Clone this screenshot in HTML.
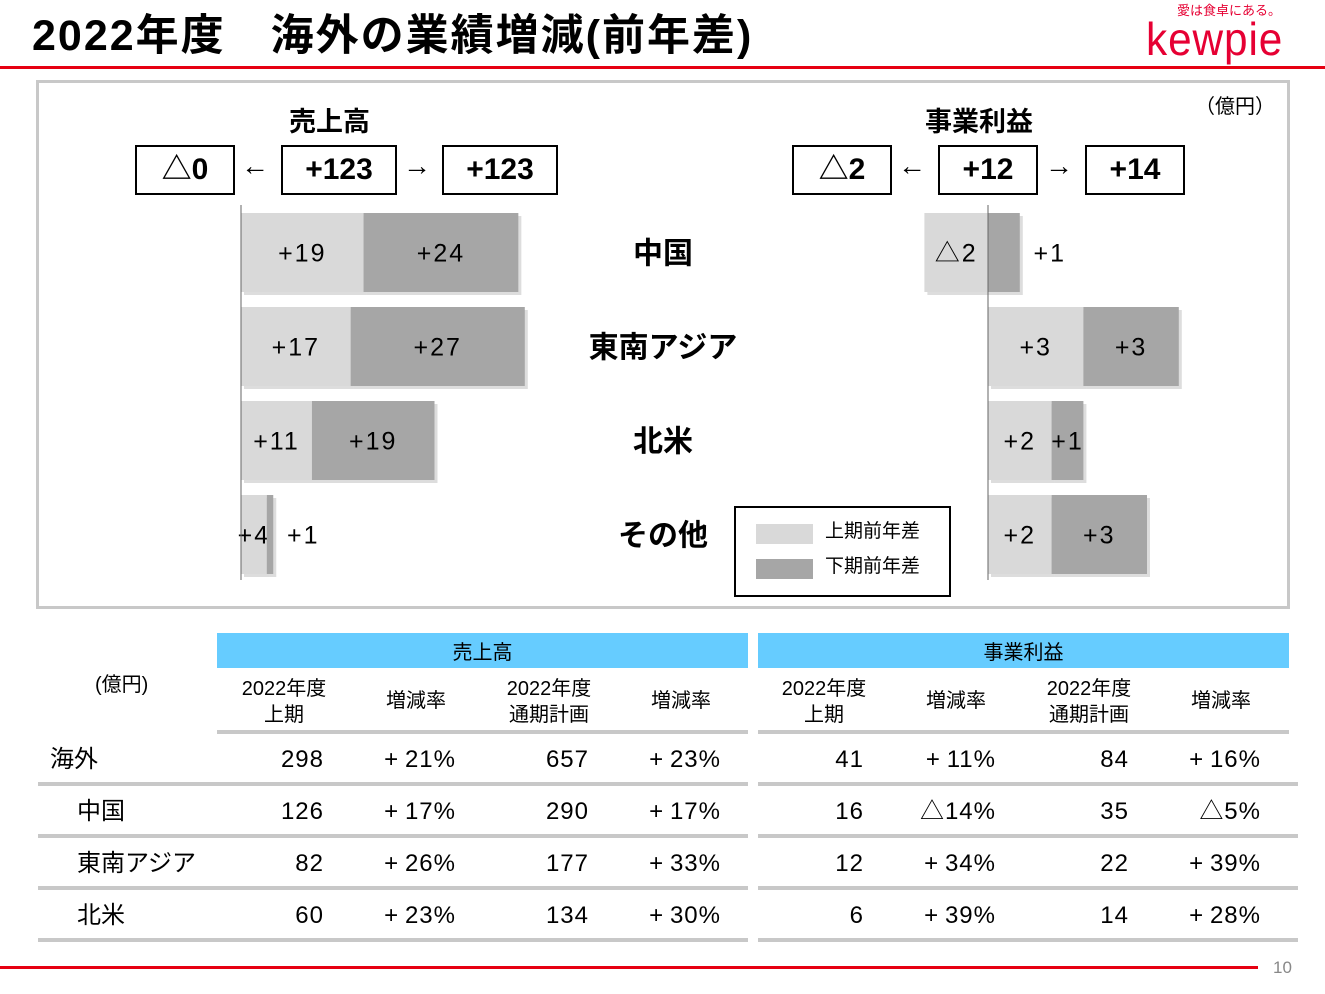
<!DOCTYPE html>
<html><head><meta charset="utf-8"><style>
body{margin:0;width:1325px;height:994px;background:#fff;font-family:"Liberation Sans","Noto Sans CJK JP",sans-serif;position:relative;overflow:hidden;color:#000}
.a{position:absolute}
.box{position:absolute;border:2px solid #000;box-sizing:border-box;display:flex;align-items:center;justify-content:center;font-weight:bold;font-size:30px;height:50px;top:145px;line-height:30px}
.arr{position:absolute;top:150px;font-size:28px}
.hd{position:absolute;top:633px;height:35px;background:#66ccff;display:flex;align-items:center;justify-content:center;font-size:20px}
.ch{position:absolute;font-size:20px;text-align:center;line-height:26px}
.cell{position:absolute;font-size:24px;text-align:right;line-height:30px;height:30px}
.sep{position:absolute;height:4px;background:#c8c8c8}
</style></head><body>
<div class="a" style="left:32px;top:10px;font-size:43px;font-weight:bold;letter-spacing:2px;line-height:52px">2022年度　海外の業績増減(前年差)</div>
<div class="a" style="left:1177px;top:0px;font-size:13px;color:#e60033">愛は食卓にある。</div>
<div class="a" style="left:1146px;top:12px;font-size:46px;color:#e60033;letter-spacing:1px;transform:scaleX(0.92);transform-origin:left">kewpie</div>
<div class="a" style="left:0;top:66px;width:1325px;height:3px;background:#e60012"></div>
<div class="a" style="left:36px;top:80px;width:1254px;height:529px;border:3px solid #c8c8c8;box-sizing:border-box"></div>
<div class="a" style="left:1195px;top:90px;font-size:20px">（億円）</div>
<div class="a" style="left:289px;top:100px;font-size:27px;font-weight:bold">売上高</div>
<div class="a" style="left:925px;top:100px;font-size:27px;font-weight:bold">事業利益</div>
<div class="box" style="left:135px;width:100px">△0</div>
<div class="arr" style="left:241px">←</div>
<div class="box" style="left:281px;width:116px">+123</div>
<div class="arr" style="left:403px">→</div>
<div class="box" style="left:442px;width:116px">+123</div>
<div class="box" style="left:792px;width:100px">△2</div>
<div class="arr" style="left:898px">←</div>
<div class="box" style="left:938px;width:100px">+12</div>
<div class="arr" style="left:1045px">→</div>
<div class="box" style="left:1085px;width:100px">+14</div>
<svg class="a" style="left:0;top:0" width="1325" height="994" id="chart"></svg>
<div class="a" style="left:734px;top:506px;width:217px;height:91px;border:2px solid #000;box-sizing:border-box;background:#fff">
<div class="a" style="left:20px;top:16px;width:57px;height:20px;background:#d9d9d9"></div>
<div class="a" style="left:89px;top:12px;font-size:19px;line-height:24px">上期前年差</div>
<div class="a" style="left:20px;top:51px;width:57px;height:20px;background:#a6a6a6"></div>
<div class="a" style="left:89px;top:47px;font-size:19px;line-height:24px">下期前年差</div>
</div>
<div class="hd" style="left:217px;width:531px">売上高</div>
<div class="hd" style="left:758px;width:531px">事業利益</div>
<div class="ch" style="left:95px;top:672px">(億円)</div>
<div id="tbl"></div>
<div class="a" style="left:0;top:966px;width:1258px;height:3px;background:#e60012"></div>
<div class="a" style="left:1273px;top:958px;font-size:17px;color:#888">10</div>
<script>
const cats=["中国","東南アジア","北米","その他"];
const salesH1=[19,17,11,4];
const salesH2=[24,27,19,1];
const profitH1=[-2,3,2,2];
const profitH2=[1,3,1,3];
const NS="http://www.w3.org/2000/svg";
const svg=document.getElementById('chart');
const rowY=i=>213+i*94, barH=79;
const sx=v=>241+v*6.45, px=v=>988+v*31.8;
function fmt(v){return v<0?"△"+(-v):"+"+v;}
function el(t,a){const e=document.createElementNS(NS,t);for(const k in a)e.setAttribute(k,a[k]);svg.appendChild(e);return e;}
function seg(x0,x1,y,fill,v,name,outside){
  const l=Math.min(x0,x1),w=Math.abs(x1-x0);
  el('rect',{x:l+3,y:y+3,width:w,height:barH,fill:'#bbb',opacity:0.5});
  const r=el('rect',{x:l,y:y,width:w,height:barH,fill:fill});
  
  
  const cx=(outside||w<15)?Math.max(x0,x1)+30:l+w/2;
  const t=el('text',{x:cx,y:y+barH/2+9,'font-size':25,'text-anchor':'middle','letter-spacing':2});
  t.textContent=fmt(v);
  
  
}
function chart(h1,h2,sc,pre){
  cats.forEach((c,i)=>{const y=rowY(i);
    seg(sc(0),sc(h1[i]),y,'#d9d9d9',h1[i],pre+'-h1-bar',false);
    const b=h1[i]>0?h1[i]:0;
    seg(sc(b),sc(b+h2[i]),y,'#a6a6a6',h2[i],pre+'-h2-bar',h1[i]<0);});
  const ax=el('line',{x1:sc(0),x2:sc(0),y1:205,y2:580,stroke:'#666','stroke-width':1});
  
  
}
chart(salesH1,salesH2,sx,'sales');
chart(profitH1,profitH2,px,'profit');
cats.forEach((c,i)=>{const t=el('text',{x:663,y:rowY(i)+barH/2+11,'font-size':30,'font-weight':'bold','text-anchor':'middle'});t.textContent=c;
  
  });
const rows=["海外","中国","東南アジア","北米"];
const sH1=["298","126","82","60"],sR1=["+21%","+17%","+26%","+23%"],sF=["657","290","177","134"],sR2=["+23%","+17%","+33%","+30%"];
const pH1=["41","16","12","6"],pR1=["+11%","△14%","+34%","+39%"],pF=["84","35","22","14"],pR2=["+16%","△5%","+39%","+28%"];
const T=document.getElementById('tbl');let h='';
const colH=[["2022年度<br>上期",284],["増減率",416],["2022年度<br>通期計画",549],["増減率",681],["2022年度<br>上期",824],["増減率",956],["2022年度<br>通期計画",1089],["増減率",1221]];
colH.forEach(c=>{const one=!c[0].includes('<br>');h+=`<div class="ch" style="left:${c[1]-60}px;width:120px;top:${one?688:676}px">${c[0]}</div>`;});
h+=`<div class="sep" style="left:217px;width:531px;top:730px"></div><div class="sep" style="left:758px;width:531px;top:730px"></div>`;
const right=[324,456,589,721,864,996,1129,1261];
rows.forEach((r,i)=>{const y=745+i*52;
  h+=`<div class="cell" style="left:${i?77:50}px;top:${y}px;text-align:left">${r}</div>`;
  [sH1,sR1,sF,sR2,pH1,pR1,pF,pR2].forEach((a,j)=>{h+=`<div class="cell" style="left:${right[j]-130}px;width:130px;top:${y}px;letter-spacing:1px">${a[i].replace('+','+\u2009')}</div>`;});
  const sy=782+i*52;
  h+=`<div class="sep" style="left:38px;width:710px;top:${sy}px"></div><div class="sep" style="left:758px;width:540px;top:${sy}px"></div>`;});
T.innerHTML=h;
</script>
</body></html>
